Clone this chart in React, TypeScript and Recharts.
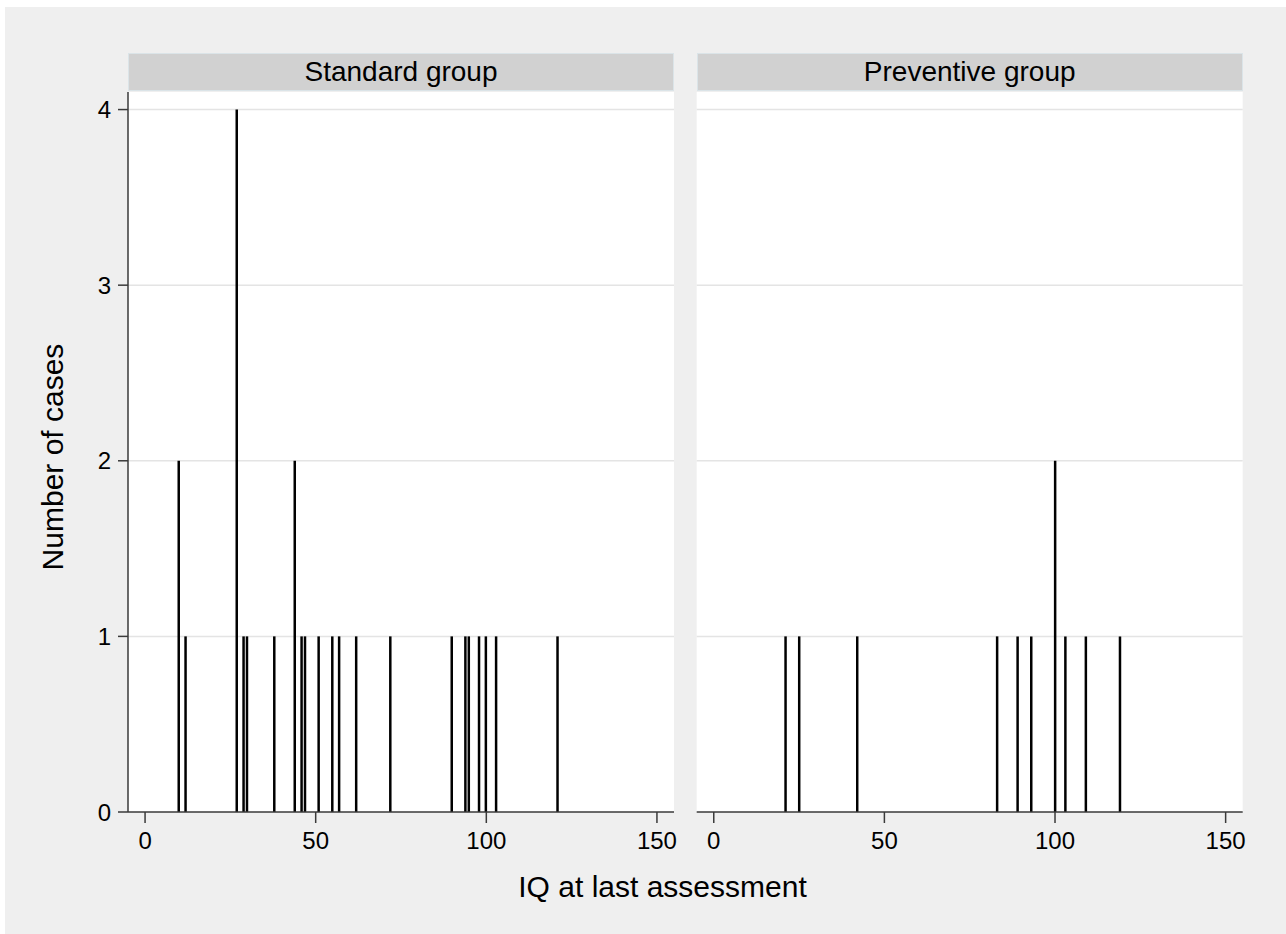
import React from "react";
import {
  BarChart,
  Bar,
  XAxis,
  YAxis,
  CartesianGrid,
} from "recharts";

// IQ values (x) and number of cases at each value
const standardIQ = [10, 12, 27, 29, 30, 38, 44, 46, 47, 51, 55, 57, 62, 72, 90, 94, 95, 98, 100, 103, 121];
const standardCases = [2, 1, 4, 1, 1, 1, 2, 1, 1, 1, 1, 1, 1, 1, 1, 1, 1, 1, 1, 1, 1];

const preventiveIQ = [21, 25, 42, 83, 89, 93, 100, 103, 109, 119];
const preventiveCases = [1, 1, 1, 1, 1, 1, 2, 1, 1, 1];

const xTicks = [0, 50, 100, 150];
const yTicks = [0, 1, 2, 3, 4];

const FONT = '"Liberation Sans", Arial, Helvetica, sans-serif';
const BG = "#efefef";
const AXIS = "#3a3a3a";

function toRows(iq: number[], cases: number[]) {
  return iq.map((v, i) => ({ iq: v, cases: cases[i] }));
}

function Panel({
  title,
  rows,
  showY,
  left,
  width,
  margin,
}: {
  title: string;
  rows: { iq: number; cases: number }[];
  showY: boolean;
  left: number;
  width: number;
  margin: { left: number; right: number; top: number; bottom: number };
}) {
  const yW = showY ? 70 : 0;
  const plotLeft = left + margin.left + yW;
  const plotRight = left + width - margin.right;
  return (
    <>
      <div
        style={{
          position: "absolute",
          left: plotLeft,
          top: 52.5,
          width: plotRight - plotLeft,
          height: 38,
          boxSizing: "border-box",
          background: "#d1d1d1",
          border: "1px solid #dbe4e8",
          display: "flex",
          alignItems: "center",
          justifyContent: "center",
          fontSize: 28,
          color: "#000",
        }}
      >
        {title}
      </div>
      <div style={{ position: "absolute", left, top: 0 }}>
        <BarChart width={width} height={870} data={rows} margin={margin}>
          <CartesianGrid
            vertical={false}
            horizontal
            fill="#ffffff"
            stroke="#e4e4e4"
            strokeWidth={1.5}
            horizontalValues={[1, 2, 3, 4]}
          />
          <XAxis
            type="number"
            dataKey="iq"
            domain={[-5, 155]}
            ticks={xTicks}
            allowDataOverflow
            height={40}
            tickSize={11}
            tickMargin={9}
            axisLine={{ stroke: AXIS, strokeWidth: 1.5 }}
            tickLine={{ stroke: AXIS, strokeWidth: 1.5 }}
            tick={{ fontSize: 24, fill: "#000", fontFamily: FONT }}
          />
          <YAxis
            type="number"
            domain={[0, 4.1]}
            ticks={yTicks}
            allowDataOverflow
            hide={!showY}
            width={70}
            tickSize={10}
            tickMargin={7}
            axisLine={{ stroke: AXIS, strokeWidth: 1.5 }}
            tickLine={{ stroke: AXIS, strokeWidth: 1.5 }}
            tick={{ fontSize: 24, fill: "#000", fontFamily: FONT }}
          />
          <Bar dataKey="cases" fill="#000" barSize={2.5} isAnimationActive={false} />
        </BarChart>
      </div>
    </>
  );
}

export default function App() {
  return (
    <div
      style={{
        position: "absolute",
        left: 0,
        top: 0,
        width: 1286,
        height: 934,
        background: "#ffffff",
        fontFamily: FONT,
        overflow: "hidden",
      }}
    >
      <div
        style={{
          position: "absolute",
          left: 5,
          top: 7,
          width: 1281,
          height: 927,
          background: BG,
        }}
      />
      <Panel
        title="Standard group"
        rows={toRows(standardIQ, standardCases)}
        showY
        left={0}
        width={690}
        margin={{ left: 58, right: 16, top: 92, bottom: 18 }}
      />
      <Panel
        title="Preventive group"
        rows={toRows(preventiveIQ, preventiveCases)}
        showY={false}
        left={680}
        width={580}
        margin={{ left: 16.7, right: 17.3, top: 92, bottom: 18 }}
      />
      <div
        style={{
          position: "absolute",
          left: 52.5,
          top: 456.5,
          transform: "translate(-50%, -50%) rotate(-90deg)",
          fontSize: 30,
          color: "#000",
          whiteSpace: "nowrap",
        }}
      >
        Number of cases
      </div>
      <div
        style={{
          position: "absolute",
          left: 662.5,
          top: 870,
          transform: "translateX(-50%)",
          fontSize: 30,
          color: "#000",
          whiteSpace: "nowrap",
        }}
      >
        IQ at last assessment
      </div>
    </div>
  );
}
